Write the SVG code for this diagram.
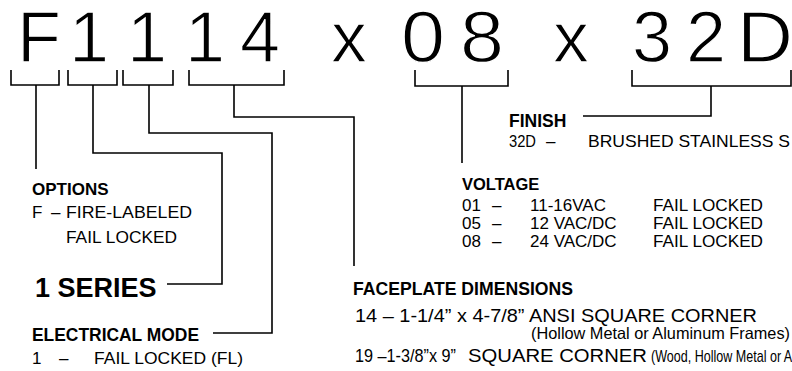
<svg xmlns="http://www.w3.org/2000/svg" width="792" height="371" viewBox="0 0 792 371">
<style>
text{font-family:"Liberation Sans",Arial,Helvetica,sans-serif;fill:#000}
.big{font-size:72px;stroke:#fff;stroke-width:1.3px}
.h{font-weight:bold}
.ln{fill:none;stroke:#000;stroke-width:1.6}
</style>
<rect width="792" height="371" fill="#fff"/>
<g id="code">
<text class="big" x="17" y="62">F</text>
<text class="big" x="69" y="62">1</text>
<text class="big" x="127" y="62">1</text>
<text class="big" x="185" y="62">1</text>
<text class="big" x="240" y="62">4</text>
<text class="big" x="331" y="62">x</text>
<text class="big" x="401" y="62" textLength="44" lengthAdjust="spacingAndGlyphs">0</text>
<text class="big" x="460" y="62" textLength="44" lengthAdjust="spacingAndGlyphs">8</text>
<text class="big" x="553" y="62">x</text>
<text class="big" x="632" y="62">3</text>
<text class="big" x="686" y="62">2</text>
<text class="big" x="737" y="62" textLength="56" lengthAdjust="spacingAndGlyphs">D</text>
</g>
<g id="brackets">
<path class="ln" d="M11,70V85H59V70"/>
<path class="ln" d="M68,70V85H117V70"/>
<path class="ln" d="M123,70V85H173V70"/>
<path class="ln" d="M189,70V85H284V70"/>
<path class="ln" d="M415,70V86H508V70"/>
<path class="ln" d="M632,70V86H791V70"/>
</g>
<g id="connectors">
<path class="ln" d="M36,85V169"/>
<path class="ln" d="M93,85V153H222V284H167"/>
<path class="ln" d="M149,85V133H272V333H213"/>
<path class="ln" d="M234,85V117H354V266"/>
<path class="ln" d="M462,86V163"/>
<path class="ln" d="M711,86V116H583"/>
</g>
<g id="options">
<text class="h" x="32" y="195" style="font-size:17px">OPTIONS</text>
<text x="32" y="218" style="font-size:17px">F</text>
<text x="51" y="218" style="font-size:17px">–</text>
<text x="66" y="218" style="font-size:17px" textLength="126" lengthAdjust="spacingAndGlyphs">FIRE-LABELED</text>
<text x="66" y="243" style="font-size:17px" textLength="111" lengthAdjust="spacingAndGlyphs">FAIL LOCKED</text>
</g>
<g id="series">
<text class="h" x="35" y="297" style="font-size:27px">1 SERIES</text>
</g>
<g id="electrical">
<text class="h" x="32" y="341" style="font-size:17.5px" textLength="167" lengthAdjust="spacingAndGlyphs">ELECTRICAL MODE</text>
<text x="32" y="364" style="font-size:17px">1</text>
<text x="59" y="364" style="font-size:17px">–</text>
<text x="94" y="364" style="font-size:17px" textLength="149" lengthAdjust="spacingAndGlyphs">FAIL LOCKED (FL)</text>
</g>
<g id="finish">
<text class="h" x="509" y="127" style="font-size:17.5px">FINISH</text>
<text x="509" y="147" style="font-size:17px" textLength="27" lengthAdjust="spacingAndGlyphs">32D</text>
<text x="546" y="147" style="font-size:17px">–</text>
<text x="588" y="147" style="font-size:17px" textLength="202" lengthAdjust="spacingAndGlyphs">BRUSHED STAINLESS S</text>
</g>
<g id="voltage">
<text class="h" x="462" y="190" style="font-size:16.5px">VOLTAGE</text>
<g style="font-size:17px">
<text x="462" y="211">01</text><text x="492" y="211">–</text><text x="530" y="211">11-16VAC</text><text x="653" y="211" textLength="110" lengthAdjust="spacingAndGlyphs">FAIL LOCKED</text>
<text x="462" y="229">05</text><text x="492" y="229">–</text><text x="530" y="229">12 VAC/DC</text><text x="653" y="229" textLength="110" lengthAdjust="spacingAndGlyphs">FAIL LOCKED</text>
<text x="462" y="247">08</text><text x="492" y="247">–</text><text x="530" y="247">24 VAC/DC</text><text x="653" y="247" textLength="110" lengthAdjust="spacingAndGlyphs">FAIL LOCKED</text>
</g>
</g>
<g id="faceplate">
<text class="h" x="353" y="295" style="font-size:17.5px" textLength="220" lengthAdjust="spacingAndGlyphs">FACEPLATE DIMENSIONS</text>
<text x="355" y="322" style="font-size:19px" textLength="402" lengthAdjust="spacingAndGlyphs">14 – 1-1/4” x 4-7/8” ANSI SQUARE CORNER</text>
<text x="531" y="339" style="font-size:16.5px" textLength="259" lengthAdjust="spacingAndGlyphs">(Hollow Metal or Aluminum Frames)</text>
<text x="355" y="362" style="font-size:19px" textLength="101" lengthAdjust="spacingAndGlyphs">19 –1-3/8”x 9”</text>
<text x="468" y="362" style="font-size:19px" textLength="179" lengthAdjust="spacingAndGlyphs">SQUARE CORNER</text>
<text x="651" y="362" style="font-size:17px" textLength="144" lengthAdjust="spacingAndGlyphs">(Wood, Hollow Metal or Al</text>
</g>
</svg>
